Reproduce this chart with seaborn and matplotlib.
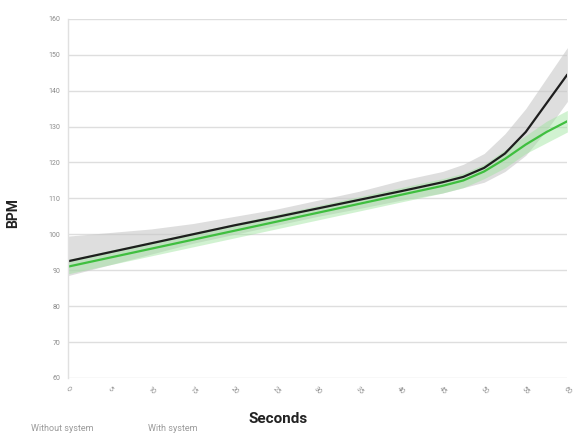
import matplotlib

matplotlib.use("Agg")

import matplotlib.pyplot as plt
import pandas as pd
import seaborn as sns

seconds = [0, 5, 10, 15, 20, 25, 30, 35, 40, 45, 47.5, 50, 52.5, 55, 57.5, 60]

without_mean = [92.5, 95, 97.5, 100, 102.5, 104.8, 107.2, 109.6, 112, 114.5, 116, 118.5, 122.5, 128.5, 136.5, 144.5]
without_low = [88.5, 91.5, 94.5, 97.5, 100, 102.5, 105, 107.2, 109.5, 111.5, 113, 114.5, 117.5, 122, 129, 137]
without_high = [99.5, 100.5, 101.5, 103, 105, 107, 109.5, 112, 115, 117.5, 119.5, 122.5, 128, 135, 143.5, 152]

with_mean = [91, 93.5, 96, 98.5, 101, 103.5, 106, 108.5, 111, 113.5, 115, 117.5, 121, 125, 128.5, 131.5]
with_low = [89, 91.5, 94, 96.5, 99, 101.5, 104, 106.5, 109, 111.5, 113, 115.5, 118.5, 122.5, 125.5, 128.5]
with_high = [93, 95.5, 98, 100.5, 103, 105.5, 108, 110.5, 113, 115.5, 117, 119.5, 123.5, 127.5, 131.5, 134.5]

series_names = ["Without system", "With system"]
x_ticks = list(range(0, 61, 5))
y_ticks = list(range(60, 161, 10))

df = pd.DataFrame({
    "Seconds": seconds * 2,
    "BPM": without_mean + with_mean,
    "group": [series_names[0]] * len(seconds) + [series_names[1]] * len(seconds),
})

sns.set_theme(style="white")
plt.rcParams["font.family"] = ["Roboto", "DejaVu Sans"]

fig, ax = plt.subplots(figsize=(5.76, 4.38), dpi=100)
fig.subplots_adjust(left=0.118, right=0.985, top=0.957, bottom=0.137)

ax.fill_between(seconds, without_low, without_high, color="#c8c8c8", alpha=0.6, linewidth=0)
ax.fill_between(seconds, with_low, with_high, color="#9be39b", alpha=0.45, linewidth=0)

sns.lineplot(
    data=df, x="Seconds", y="BPM", hue="group",
    palette={series_names[0]: "#1e1e1e", series_names[1]: "#3fbf3f"},
    linewidth=1.6, ax=ax, legend=False,
)

ax.set_xlim(0, 60)
ax.set_ylim(60, 160)
ax.set_xticks(x_ticks)
ax.set_yticks(y_ticks)
ax.tick_params(axis="both", labelsize=5, colors="#8a8a8a", length=2, width=0.5)
plt.setp(ax.get_xticklabels(), rotation=-45, ha="center", rotation_mode="default")
ax.yaxis.grid(True, color="#dedede", linewidth=1)
ax.xaxis.grid(False)
for side in ["top", "right", "bottom"]:
    ax.spines[side].set_visible(False)
ax.spines["left"].set_color("#e0e0e0")
ax.spines["left"].set_linewidth(1)

ax.set_xlabel("Seconds", fontsize=11, fontweight="bold", color="#222222")
ax.set_ylabel("BPM", fontsize=10, fontweight="bold", color="#222222")
ax.xaxis.set_label_coords(0.42, -0.095)
ax.yaxis.set_label_coords(-0.095, 0.46)

handles = [plt.Line2D([], [], color="none") for _ in series_names]
leg = ax.legend(
    handles, series_names, loc="upper left", bbox_to_anchor=(-0.09, -0.105),
    ncol=2, frameon=False, handlelength=0, handletextpad=0, columnspacing=6,
    fontsize=6.5,
)
for t in leg.get_texts():
    t.set_color("#9a9a9a")

fig.savefig("out.png", dpi=100)
